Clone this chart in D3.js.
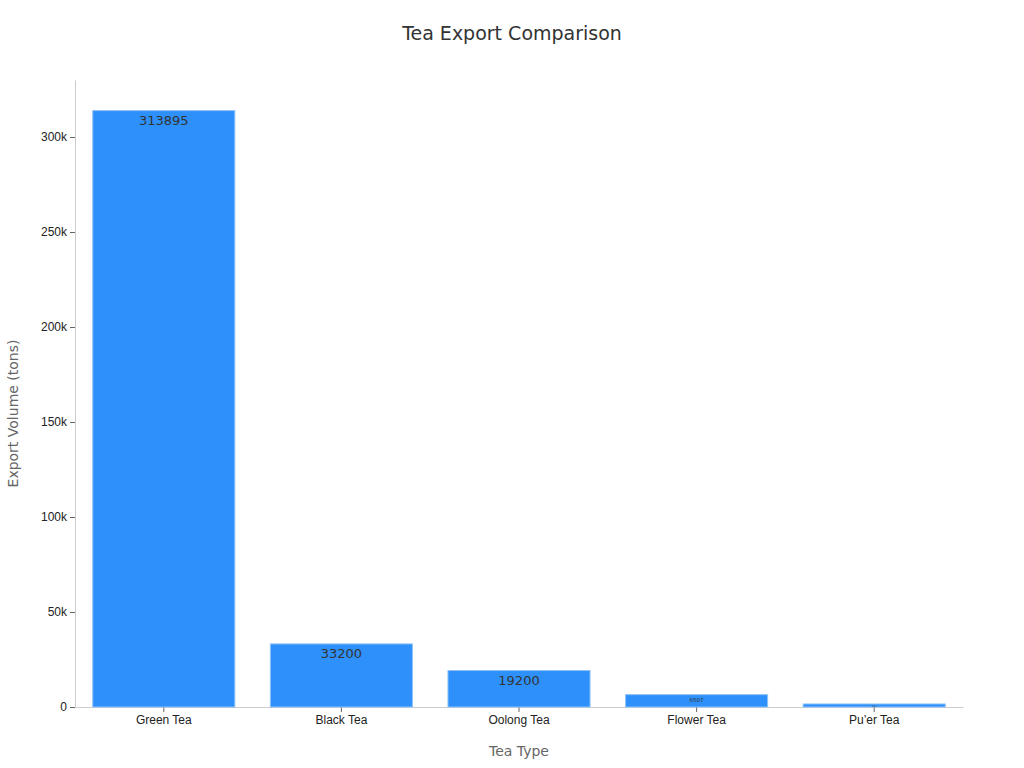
<!DOCTYPE html>
<html><head><meta charset="utf-8">
<script src="https://cdn.jsdelivr.net/npm/d3@7"></script>
<style>body{margin:0;background:#fff;font-family:"DejaVu Sans",sans-serif}</style>
</head><body><svg width="1024" height="768"></svg>
<script>
const categories = ["Green Tea", "Black Tea", "Oolong Tea", "Flower Tea", "Pu\u2019er Tea"]
const values = [313895, 33200, 19200, 6507, 1600]
const yTicks = [0, 50000, 100000, 150000, 200000, 250000, 300000]

const svg = d3.select("svg")
const m = {left: 75, right: 963, top: 80, bottom: 707}

const x = d3.scaleBand().domain(categories).range([m.left, m.right]).paddingInner(0.2).paddingOuter(0.1)
const y = d3.scaleLinear().domain([0, 330000]).range([m.bottom, m.top])

svg.append("text").attr("x", 512).attr("y", 40).attr("text-anchor", "middle")
  .attr("font-size", 19).attr("fill", "#333").text("Tea Export Comparison")

const xa = svg.append("g").attr("transform", `translate(0,${m.bottom})`)
  .call(d3.axisBottom(x).tickSize(5).tickSizeOuter(0))
const ya = svg.append("g").attr("transform", `translate(${m.left},0)`)
  .call(d3.axisLeft(y).tickValues(yTicks).tickSize(5).tickSizeOuter(0)
    .tickFormat(d => d === 0 ? "0" : d / 1000 + "k"))
for (const a of [xa, ya]) {
  a.select(".domain").attr("stroke", "#ccc")
  a.selectAll(".tick line").attr("stroke", "#666")
  a.selectAll(".tick text").attr("font-size", 12).attr("fill", "#222")
}

svg.selectAll(".bar").data(values).join("rect")
  .attr("x", (d, i) => x(categories[i])).attr("width", x.bandwidth())
  .attr("y", d => y(d)).attr("height", d => y(0) - y(d))
  .attr("fill", "#2e90fa").attr("stroke", "#8fc2f8").attr("stroke-width", 1)

svg.selectAll(".lbl").data(values).join("text")
  .attr("x", (d, i) => x(categories[i]) + x.bandwidth() / 2)
  .attr("y", d => {
    const h = y(0) - y(d)
    return h > 20 ? y(d) + 14 : y(d) + h / 2 + 1.5
  })
  .attr("text-anchor", "middle")
  .attr("font-size", d => { const h = y(0) - y(d); return h > 20 ? 13 : Math.max(2, h * 0.45) })
  .attr("fill", "#333").text(d => d)

svg.append("text").attr("x", (m.left + m.right) / 2).attr("y", 756).attr("text-anchor", "middle")
  .attr("font-size", 14).attr("fill", "#666").text("Tea Type")
svg.append("text").attr("transform", `translate(18,${(m.top + m.bottom) / 2 + 20}) rotate(-90)`)
  .attr("text-anchor", "middle").attr("font-size", 14).attr("fill", "#666").text("Export Volume (tons)")
</script></body></html>
